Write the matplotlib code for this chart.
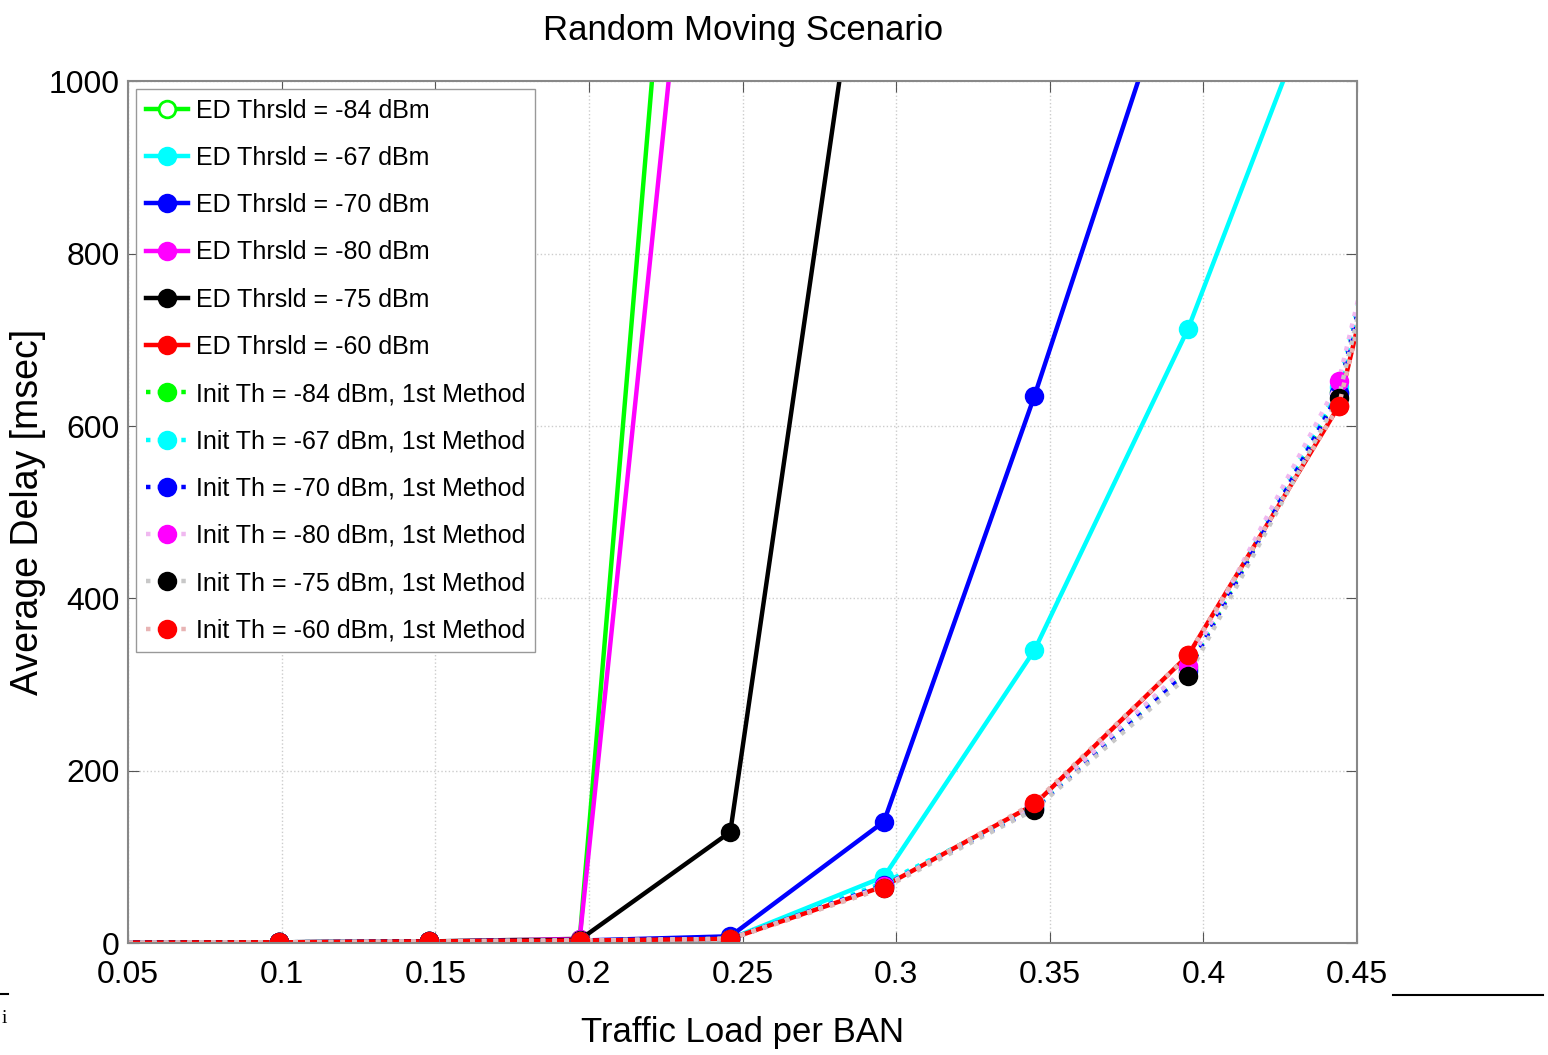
import matplotlib
matplotlib.use("Agg")
import matplotlib.pyplot as plt
from matplotlib.lines import Line2D

# traffic load points (first and last lie past the axis and get clipped)
loads = [0.0, 0.099, 0.148, 0.197, 0.246, 0.296, 0.345, 0.395, 0.444, 0.494]

# ED threshold curves
ed_84 = [0, 1, 2, 5, 2080]
ed_67 = [0, 1, 2, 3, 5, 77, 340, 713, 1168]
ed_70 = [0, 1, 2, 3, 8, 141, 635, 1176]
ed_80 = [0, 1, 2, 5, 1690]
ed_75 = [0, 1, 2, 4, 129, 1356]
ed_60 = [0, 1, 2, 3, 5, 66, 161, 334, 623, 1370]

# initial threshold, 1st method
init_84 = [0, 1, 2, 3, 5, 68, 158, 318, 640, 1390]
init_67 = [0, 1, 2, 3, 5, 70, 157, 320, 645, 1400]
init_70 = [0, 1, 2, 3, 5, 67, 156, 316, 638, 1390]
init_80 = [0, 1, 2, 3, 5, 66, 160, 322, 652, 1400]
init_75 = [0, 1, 2, 3, 5, 64, 155, 310, 633, 1385]
init_60 = [0, 1, 2, 3, 5, 64, 163, 334, 623, 1370]

xticks = [0.05, 0.1, 0.15, 0.2, 0.25, 0.3, 0.35, 0.4, 0.45]
xticklabels = ['0.05', '0.1', '0.15', '0.2', '0.25', '0.3', '0.35', '0.4', '0.45']
yticks = [0, 200, 400, 600, 800, 1000]

plt.rcParams['font.family'] = ['Liberation Sans Narrow', 'Liberation Sans', 'DejaVu Sans']

fig = plt.figure(figsize=(15.48, 10.55), dpi=100)
ax = fig.add_axes([0.0827, 0.106, 0.794, 0.817])

lw = 3.2
ms = 12

def draw(y, color, label, ls='-', mcolor=None, mfc=None):
    mcolor = mcolor or color
    ax.plot(loads[:len(y)], y, ls, color=color, lw=lw, marker='o', ms=ms,
            mec=mcolor, mfc=mfc or mcolor, mew=2, label=label)

draw(ed_84, '#00ff00', 'ED Thrsld = -84 dBm', mfc='white')
draw(ed_67, '#00ffff', 'ED Thrsld = -67 dBm')
draw(ed_70, '#0000ff', 'ED Thrsld = -70 dBm')
draw(ed_80, '#ff00ff', 'ED Thrsld = -80 dBm')
draw(ed_75, '#000000', 'ED Thrsld = -75 dBm')
draw(ed_60, '#ff0000', 'ED Thrsld = -60 dBm')

draw(init_84, '#00ff00', 'Init Th = -84 dBm, 1st Method', ls=':', mfc='#00ff00')
draw(init_67, '#00ffff', 'Init Th = -67 dBm, 1st Method', ls=':')
draw(init_70, '#0000ff', 'Init Th = -70 dBm, 1st Method', ls=':')
draw(init_80, '#f0b8f0', 'Init Th = -80 dBm, 1st Method', ls=':', mcolor='#ff00ff')
draw(init_75, '#c8c8c8', 'Init Th = -75 dBm, 1st Method', ls=':', mcolor='#000000')
draw(init_60, '#e8b4b4', 'Init Th = -60 dBm, 1st Method', ls=':', mcolor='#ff0000')

ax.set_xlim(0.05, 0.45)
ax.set_ylim(0, 1000)
ax.set_xticks(xticks)
ax.set_xticklabels(xticklabels)
ax.set_yticks(yticks)
ax.tick_params(direction='in', length=8, labelsize=23, top=True, right=True,
               color='#555555')
ax.tick_params(axis='x', pad=12)
ax.tick_params(axis='y', pad=6)
ax.grid(True, ls=':', color='#cccccc', lw=1)
for s in ax.spines.values():
    s.set_color('#888888')
    s.set_linewidth(1.5)

ax.set_title('Random Moving Scenario', fontsize=25, pad=30)
ax.set_xlabel('Traffic Load per BAN', fontsize=25)
ax.xaxis.set_label_coords(0.5, -0.084)
ax.set_ylabel('Average Delay [msec]', fontsize=27)
ax.yaxis.set_label_coords(-0.067, 0.5)

leg = ax.legend(loc='upper left', fontsize=18, handlelength=1.7,
                handletextpad=0.3, borderaxespad=0.3, labelspacing=0.93,
                fancybox=False, edgecolor='#999999', framealpha=1)

# stray marks from the page around the figure
fig.add_artist(Line2D([0.9, 0.997], [0.057, 0.057], color='black', lw=1.5))
fig.add_artist(Line2D([0.0, 0.005], [0.058, 0.058], color='black', lw=1.5))
fig.text(0.001, 0.03, 'i', fontsize=14, family='Liberation Serif')

fig.savefig('out.png', dpi=100)
